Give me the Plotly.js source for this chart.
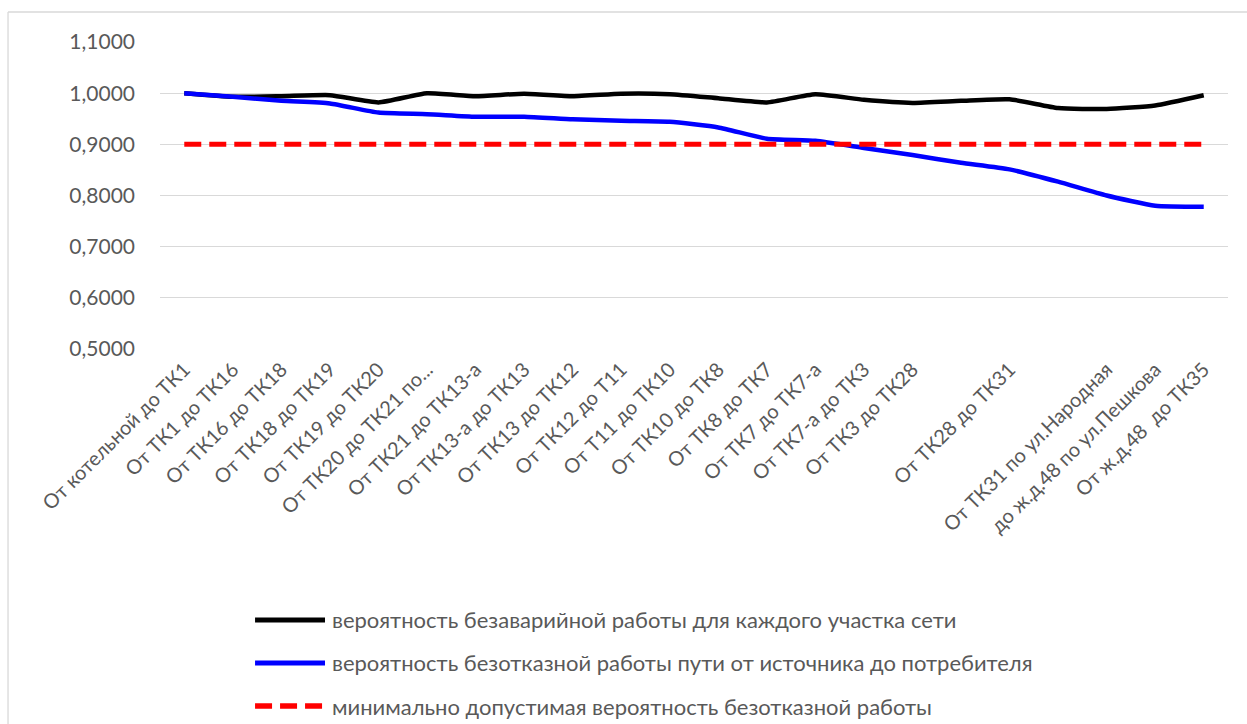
<!DOCTYPE html>
<html>
<head>
<meta charset="utf-8">
<script src="https://cdn.plot.ly/plotly-3.0.1.min.js"></script>
<style>html,body{margin:0;padding:0;background:#fff;}#chart{width:1247px;height:724px;}</style>
</head>
<body>
<div id="chart"></div>
<script>
var categories = [
  "От котельной до ТК1", "От ТК1 до ТК16", "От ТК16 до ТК18", "От ТК18 до ТК19",
  "От ТК19 до ТК20", "От ТК20 до ТК21 по...", "От ТК21 до ТК13-а", "От ТК13-а до ТК13",
  "От ТК13 до ТК12", "От ТК12 до Т11", "От Т11 до ТК10", "От ТК10 до ТК8",
  "От ТК8 до ТК7", "От ТК7 до ТК7-а", "От ТК7-а до ТК3", "От ТК3 до ТК28",
  " ", "От ТК28 до ТК31", "  ", "От ТК31 по ул.Народная",
  "до ж.д.48 по ул.Пешкова", "От ж.д.48  до ТК35"
];
var sectionReliability = [1.000, 0.993, 0.994, 0.996, 0.982, 1.000, 0.994, 0.999, 0.994, 0.999, 0.998,
  0.990, 0.982, 0.998, 0.987, 0.981, 0.985, 0.988, 0.971, 0.969, 0.976, 0.996];
var pathReliability = [1.000, 0.993, 0.985, 0.980, 0.962, 0.959, 0.954, 0.954, 0.949, 0.946, 0.944,
  0.933, 0.911, 0.907, 0.893, 0.879, 0.864, 0.851, 0.827, 0.800, 0.780, 0.778];
var minReliability = [0.9, 0.9, 0.9, 0.9, 0.9, 0.9, 0.9, 0.9, 0.9, 0.9, 0.9,
  0.9, 0.9, 0.9, 0.9, 0.9, 0.9, 0.9, 0.9, 0.9, 0.9, 0.9];
var seriesNames = [
  "вероятность безаварийной работы для каждого участка сети",
  "вероятность безотказной работы пути от источника до потребителя",
  "минимально допустимая вероятность безотказной работы"
];
var seriesColors = ["#000000", "#0000FF", "#FF0000"];
var seriesDash = ["solid", "solid", "17px,8px"];
var seriesWidth = [4.5, 4.5, 5];
var yTicks = [0.5, 0.6, 0.7, 0.8, 0.9, 1.0, 1.1];

var font = "Lato, 'Open Sans', 'Liberation Sans', sans-serif";
var seriesValues = [sectionReliability, pathReliability, minReliability];
var traces = seriesValues.map(function (vals, i) {
  var ln = {color: seriesColors[i], width: seriesWidth[i], dash: seriesDash[i]};
  if (i < 2) { ln.shape = "spline"; ln.smoothing = 0.5; }
  return {x: categories, y: vals, name: seriesNames[i], type: "scatter", mode: "lines", line: ln};
});

// legend drawn as shapes + annotations (longer line samples like the original)
var legendRowsY = [-0.8827, -1.0228, -1.1629];
var shapes = [
  {type: "line", xref: "paper", yref: "paper", x0: -0.1423, x1: 1.03, y0: 1.0977, y1: 1.0977,
   line: {color: "#d9d9d9", width: 1.3}},
  {type: "line", xref: "paper", yref: "paper", x0: -0.1423, x1: -0.1423, y0: 1.0977, y1: -1.3,
   line: {color: "#d9d9d9", width: 1.3}}
];
var annotations = [];
seriesNames.forEach(function (nm, i) {
  shapes.push({type: "line", xref: "paper", yref: "paper", x0: 0.0890, x1: 0.1545,
    y0: legendRowsY[i], y1: legendRowsY[i],
    line: {color: seriesColors[i], width: seriesWidth[i] + 0.5, dash: seriesDash[i]}});
  annotations.push({xref: "paper", yref: "paper", x: 0.1590, y: legendRowsY[i],
    xanchor: "left", yanchor: "middle", showarrow: false, text: nm,
    font: {size: 22, color: "#595959", family: font}});
});

var layout = {
  width: 1247, height: 724,
  margin: {l: 160, r: 19, t: 42, b: 375},
  paper_bgcolor: "#ffffff", plot_bgcolor: "#ffffff",
  separators: ", ",
  font: {family: font, color: "#595959", size: 20},
  showlegend: false,
  xaxis: {
    type: "category", tickangle: -45, showgrid: false, zeroline: false, automargin: false,
    showline: false, ticks: "", ticklabelstandoff: 4, tickfont: {size: 20, color: "#595959"},
    range: [-0.5, categories.length - 0.5], fixedrange: true
  },
  yaxis: {
    range: [0.5, 1.1], tickvals: yTicks, tickformat: ".4f", automargin: false,
    showgrid: true, gridcolor: "#d9d9d9", gridwidth: 1.3, zeroline: false,
    showline: false, ticks: "", ticklabelstandoff: 24,
    tickfont: {size: 21, color: "#595959"}, fixedrange: true
  },
  shapes: shapes,
  annotations: annotations
};
Plotly.newPlot("chart", traces, layout, {displayModeBar: false, staticPlot: true});
</script>
</body>
</html>
